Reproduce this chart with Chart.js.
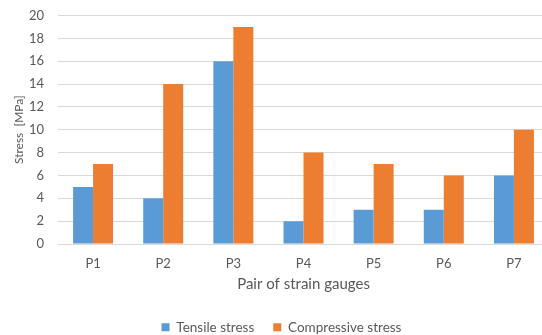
<!DOCTYPE html>
<html>
<head>
<meta charset="utf-8">
<script src="https://cdn.jsdelivr.net/npm/chart.js@4"></script>
<style>
html,body{margin:0;padding:0;overflow:hidden;background:#fff;}
#wrap{width:552px;height:335px;}
</style>
</head>
<body>
<div id="wrap"><canvas id="c" width="552" height="335"></canvas></div>
<script>
const categories = ["P1", "P2", "P3", "P4", "P5", "P6", "P7"];
const tensileStress = [5, 4, 16, 2, 3, 3, 6];
const compressiveStress = [7, 14, 19, 8, 7, 6, 10];
const yTicks = [0, 2, 4, 6, 8, 10, 12, 14, 16, 18, 20];

const FONT = "Lato, 'Open Sans', sans-serif";
const GRAY = "#595959";

const legendShift = {
  id: "legendShift",
  afterLayout(chart) {
    const lg = chart.legend;
    if (lg) { lg.left += 7; lg.right += 7; }
  }
};

new Chart(document.getElementById("c"), {
  type: "bar",
  data: {
    labels: categories,
    datasets: [
      { label: "Tensile stress", data: tensileStress, backgroundColor: "#5B9BD5", borderWidth: 0 },
      { label: "Compressive stress", data: compressiveStress, backgroundColor: "#ED7D31", borderWidth: 0 }
    ]
  },
  plugins: [legendShift],
  options: {
    responsive: false,
    animation: false,
    devicePixelRatio: 1,
    layout: { padding: { top: 15.5, right: 3, left: 0, bottom: -9 } },
    datasets: { bar: { categoryPercentage: 0.57, barPercentage: 1.0 } },
    plugins: {
      legend: {
        position: "bottom",
        labels: {
          boxWidth: 8, boxHeight: 8, padding: 19,
          font: { family: FONT, size: 13.5 }, color: GRAY
        }
      },
      tooltip: { enabled: false }
    },
    scales: {
      x: {
        grid: { display: true, drawOnChartArea: false, drawTicks: true, tickLength: 10, tickColor: "rgba(0,0,0,0)" },
        border: { display: true, color: "#D9D9D9", width: 1 },
        ticks: { font: { family: FONT, size: 13 }, color: GRAY, padding: 2 },
        title: {
          display: true, text: "Pair of strain gauges",
          font: { family: FONT, size: 15 }, color: GRAY,
          padding: { top: 1.4, bottom: 8.5 }
        }
      },
      y: {
        min: 0, max: 20,
        afterBuildTicks: (s) => { s.ticks = yTicks.map(v => ({ value: v })); },
        afterFit: (s) => { s.width = 58; },
        grid: { color: "#D9D9D9", drawTicks: true, tickLength: 12, tickColor: "rgba(0,0,0,0)" },
        border: { display: false },
        ticks: { font: { family: FONT, size: 13 }, color: GRAY, padding: 2, autoSkip: false },
        title: {
          display: true, text: "Stress  [MPa]",
          font: { family: FONT, size: 12 }, color: GRAY,
          padding: { top: 11.5, bottom: 0 }
        }
      }
    }
  }
});
</script>
</body>
</html>
